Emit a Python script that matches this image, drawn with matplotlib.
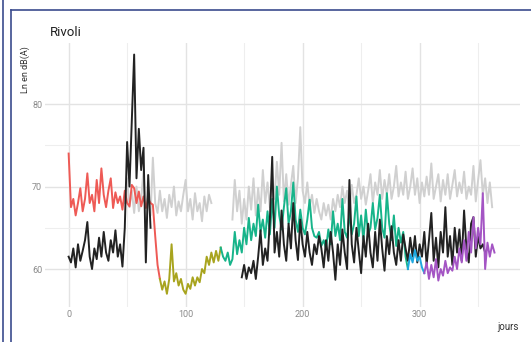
import matplotlib
matplotlib.use("Agg")
import matplotlib.pyplot as plt
from matplotlib.lines import Line2D

# ---------------- data ----------------
red_days = list(range(0, 80, 2))
red_vals = [74.0, 67.5, 68.5, 66.5, 68.0, 69.8, 67.0, 68.5, 71.6, 68.0,
            69.0, 67.0, 70.8, 68.0, 72.2, 69.0, 67.5, 69.5, 71.0, 67.4,
            69.3, 68.0, 68.8, 67.2, 69.5, 68.0, 67.6, 70.2, 69.8, 68.0,
            69.4, 67.6, 68.8, 67.4, 68.5, 68.0, 67.8, 64.0, 60.5, 58.8]

olive_days = list(range(78, 132, 2))
olive_vals = [58.8, 57.5, 58.5, 57.0, 58.8, 63.0, 58.5, 59.5, 58.0, 58.8,
              57.5, 57.0, 58.2, 57.6, 59.0, 58.0, 59.0, 58.4, 60.0, 59.5,
              61.5, 60.5, 62.0, 60.8, 62.2, 61.0, 62.6]

green_days = list(range(130, 292, 2))
green_vals = [62.6, 61.5, 61.0, 62.0, 60.5, 61.2, 64.5, 61.8, 63.5, 62.0,
              65.0, 63.0, 66.2, 63.5, 65.5, 64.0, 67.8, 64.5, 66.0, 63.8,
              67.0, 64.2, 68.5, 65.0, 70.0, 66.5, 64.8, 67.5, 69.8, 65.5,
              67.0, 70.5, 66.0, 64.5, 67.2, 65.0, 64.2, 66.0, 68.4, 65.0,
              64.0, 63.8, 64.5, 62.8, 63.5, 62.5, 64.8, 63.0, 67.0, 64.0,
              65.5, 63.5, 68.5, 64.5, 63.8, 66.8, 64.2, 65.5, 68.8, 64.0,
              66.5, 63.5, 67.2, 64.2, 65.0, 68.0, 64.8, 66.2, 69.0, 65.0,
              63.8, 69.2, 65.5, 63.5, 66.5, 62.8, 65.0, 63.2, 64.5, 61.5,
              60.0]

blue_days = list(range(290, 306, 2))
blue_vals = [60.0, 61.8, 60.8, 62.3, 61.0, 61.5, 60.2, 59.5]

purple_days = list(range(304, 366, 2))
purple_vals = [59.5, 60.8, 58.8, 60.5, 59.0, 61.2, 58.6, 60.0, 59.2, 61.0,
               59.5, 60.2, 59.8, 61.5, 60.0, 62.5, 60.8, 63.5, 61.0, 64.5,
               62.0, 66.3, 62.5, 65.0, 63.0, 69.2, 60.0, 63.2, 61.5, 63.0,
               62.0]

black1_days = list(range(0, 72, 2))
black1_vals = [61.5, 60.8, 62.5, 60.2, 63.0, 61.0, 62.2, 63.5, 65.7, 61.5,
               60.0, 62.5, 61.2, 63.8, 61.5, 64.5, 62.0, 61.0, 63.5, 62.0,
               64.7, 61.5, 63.0, 60.3, 65.0, 75.4, 70.0, 78.0, 86.0, 71.0,
               77.0, 72.0, 74.7, 60.8, 71.4, 65.0]

black2_days = list(range(148, 358, 2))
black2_vals = [59.0, 60.5, 58.8, 60.2, 59.5, 61.0, 58.8, 61.5, 64.7, 60.5,
               62.5, 61.0, 66.0, 73.6, 62.0, 64.5, 61.5, 67.1, 63.0, 61.0,
               65.5, 62.5, 68.0, 63.5, 61.1, 66.0, 63.0, 61.5, 64.5, 62.0,
               60.5, 63.0, 61.8, 64.0, 62.5, 60.2, 63.5, 61.0, 64.5, 62.0,
               58.7, 63.0, 60.5, 64.8, 62.0, 60.0, 70.8, 63.0, 60.8, 65.0,
               62.2, 59.5, 64.0, 61.5, 65.5, 62.0, 60.2, 64.5, 61.0, 66.0,
               62.5, 59.8, 64.0, 61.8, 65.2, 62.0, 60.5, 63.5, 61.0, 64.2,
               62.5, 61.0, 63.8, 61.5, 64.0, 60.8, 63.0, 61.5, 64.5, 60.5,
               63.5, 66.8, 61.0, 63.8, 60.2, 64.5, 62.0, 67.5, 61.5, 64.0,
               60.5, 65.0, 62.0, 64.8, 61.0, 67.1, 62.5, 60.8, 65.5, 66.3,
               61.5, 64.0, 62.5, 63.0, 62.0]

gray1_days = list(range(48, 124, 2))
gray1_vals = [68.0, 71.0, 67.5, 69.5, 66.8, 70.0, 67.0, 68.5, 72.0, 67.5,
              69.0, 66.5, 73.5, 68.0, 66.8, 69.5, 67.0, 68.5, 66.2, 69.0,
              67.5, 70.0, 66.5, 68.2, 67.0, 69.0, 70.8, 67.0, 68.5, 66.0,
              69.2, 67.0, 68.0, 65.8, 68.8, 67.0, 69.0, 68.0]

gray2_days = list(range(140, 364, 2))
gray2_vals = [66.0, 70.8, 67.0, 69.5, 65.5, 68.5, 66.0, 70.0, 67.2, 71.0,
              66.5, 69.8, 67.0, 72.0, 68.0, 70.5, 67.5, 71.2, 68.5, 73.0,
              69.0, 75.3, 68.2, 71.5, 67.8, 70.2, 72.5, 68.0, 71.0, 77.2,
              69.5, 68.0, 70.5, 67.5, 69.0, 66.8, 68.5, 67.0, 66.0, 68.0,
              66.5, 67.8, 66.0, 68.5, 67.0, 69.0, 67.5, 70.0, 68.0, 69.5,
              67.2, 70.2, 68.0, 69.0, 71.0, 68.5, 70.0, 67.8, 69.5, 71.5,
              68.0, 70.5, 69.0, 72.0, 68.5, 70.8, 69.0, 71.5, 68.5, 70.0,
              72.5, 68.8, 70.5, 69.0, 71.8, 68.5, 70.0, 72.2, 69.0, 71.0,
              68.0, 70.5, 68.8, 71.2, 69.0, 72.8, 68.5, 70.0, 71.5, 68.2,
              70.8, 69.0, 71.5, 68.5, 70.2, 72.0, 68.8, 70.5, 69.2, 71.8,
              68.5, 70.0, 69.0, 72.5, 68.2, 70.8, 73.2, 69.0, 71.0, 68.0,
              70.5, 67.5]

x_ticks = [0, 100, 200, 300]
y_ticks = [60, 70, 80]

# ---------------- figure ----------------
plt.rcParams['font.family'] = ['Roboto', 'DejaVu Sans']
fig = plt.figure(figsize=(5.31, 3.42), dpi=100)
ax = fig.add_axes([45/531, 1-307/342, (520-45)/531, (307-43)/342])

ax.set_xlim(-20.2, 385.8)
ax.set_ylim(55.4, 87.4)
ax.set_xticks(x_ticks)
ax.set_yticks(y_ticks)
ax.set_xticks([50, 150, 250, 350], minor=True)
ax.set_yticks([65, 75], minor=True)
ax.grid(True, which='major', color='#E3E3E3', lw=1.0)
ax.grid(True, which='minor', color='#EEEEEE', lw=0.8)
ax.set_axisbelow(True)
for s in ax.spines.values():
    s.set_visible(False)
ax.tick_params(which='both', length=0, labelsize=6.5, labelcolor='#8a8a8a', pad=2)

lw = 1.4
ax.plot(gray1_days, gray1_vals, color='#D0D0D0', lw=lw)
ax.plot(gray2_days, gray2_vals, color='#D0D0D0', lw=lw)
ax.plot(red_days, red_vals, color='#EE5A55', lw=lw)
ax.plot(olive_days, olive_vals, color='#A8A41E', lw=lw)
ax.plot(green_days, green_vals, color='#17B48A', lw=lw)
ax.plot(black1_days, black1_vals, color='#222222', lw=lw)
ax.plot(black2_days, black2_vals, color='#222222', lw=lw)
ax.plot(blue_days, blue_vals, color='#1EA8E0', lw=lw)
ax.plot(purple_days, purple_vals, color='#A455C4', lw=lw)

fig.text(50/531, 1-32/342, 'Rivoli', fontsize=9.5, color='#222222', va='center', ha='left')
fig.text(25/531, 1-70/342, 'Ln en dB(A)', fontsize=6.5, color='#333333', rotation=90,
         va='center', ha='center')
fig.text(508/531, 1-327/342, 'jours', fontsize=7, color='#333333', va='center', ha='center')

# page frame lines
fc = '#3B4B8E'
fig.add_artist(Line2D([3/531, 3/531], [0, 1], transform=fig.transFigure, color=fc, lw=1.2))
fig.add_artist(Line2D([11/531, 11/531], [0, 1-10/342], transform=fig.transFigure, color=fc, lw=1.2))
fig.add_artist(Line2D([11/531, 1], [1-10/342, 1-10/342], transform=fig.transFigure, color=fc, lw=1.2))

fig.savefig('out.png', dpi=100)
